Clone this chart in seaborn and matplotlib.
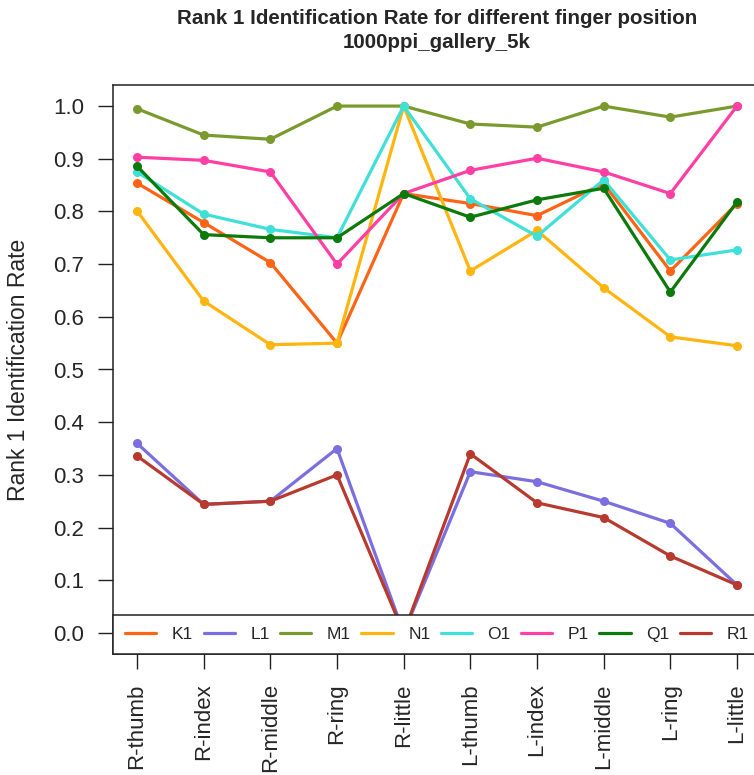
import matplotlib
matplotlib.use("Agg")
import matplotlib.pyplot as plt
from matplotlib.lines import Line2D
from matplotlib import font_manager
import seaborn as sns
import pandas as pd

fingers = ["R-thumb", "R-index", "R-middle", "R-ring", "R-little",
           "L-thumb", "L-index", "L-middle", "L-ring", "L-little"]
series_names = ["K1", "L1", "M1", "N1", "O1", "P1", "Q1", "R1"]

K1 = [0.854, 0.779, 0.703, 0.550, 0.834, 0.815, 0.792, 0.853, 0.687, 0.815]
L1 = [0.360, 0.244, 0.250, 0.350, 0.000, 0.306, 0.287, 0.250, 0.208, 0.091]
M1 = [0.995, 0.945, 0.937, 1.000, 1.000, 0.966, 0.960, 1.000, 0.979, 1.000]
N1 = [0.801, 0.630, 0.547, 0.550, 1.000, 0.687, 0.764, 0.655, 0.562, 0.545]
O1 = [0.875, 0.795, 0.766, 0.750, 1.000, 0.824, 0.753, 0.860, 0.708, 0.727]
P1 = [0.903, 0.897, 0.875, 0.700, 0.834, 0.878, 0.901, 0.875, 0.834, 1.000]
Q1 = [0.886, 0.756, 0.750, 0.750, 0.834, 0.789, 0.822, 0.844, 0.647, 0.818]
R1 = [0.336, 0.244, 0.250, 0.300, 0.000, 0.340, 0.247, 0.219, 0.146, 0.091]

colors = ["#FF6316", "#7B6FE0", "#7A9A2E", "#FFB510",
          "#3EE0D8", "#FF3FA4", "#0B7A0B", "#B83A2E"]

values = [K1, L1, M1, N1, O1, P1, Q1, R1]
rows = []
for name, vals in zip(series_names, values):
    for f, v in zip(fingers, vals):
        rows.append({"finger": f, "series": name, "rate": v})
df = pd.DataFrame(rows)
df["pos"] = df["finger"].map({f: i for i, f in enumerate(fingers)})

sns.set_style("ticks")
installed = {f.name for f in font_manager.fontManager.ttflist}
base_font = "Liberation Sans" if "Liberation Sans" in installed else "DejaVu Sans"
title_font = "Liberation Sans Narrow" if "Liberation Sans Narrow" in installed else base_font
plt.rcParams["font.family"] = [base_font, "DejaVu Sans"]

fig = plt.figure(figsize=(7.54, 7.75), dpi=100)
ax = fig.add_axes([113 / 754, 121 / 775, 648 / 754, 569 / 775])

palette = dict(zip(series_names, colors))
sns.lineplot(data=df, x="pos", y="rate", hue="series", hue_order=series_names,
             palette=palette, marker="o", markersize=6.5, markeredgewidth=0,
             linewidth=2.3, sort=False, legend=False, ax=ax, zorder=2)

ax.set_xlim(-0.36, 9.36)
ax.set_ylim(-0.04, 1.04)
ax.set_xticks(range(len(fingers)))
ax.set_xticklabels(fingers, rotation=90, fontsize=16)
ax.set_yticks([i / 10 for i in range(11)])
ax.set_yticklabels([f"{i / 10:.1f}" for i in range(11)], fontsize=16)
ax.tick_params(axis="both", direction="out", length=11, width=1.0, color="#222222", pad=10)
ax.set_xlabel("")
ax.set_ylabel("Rank 1 Identification Rate", fontsize=16.5)
ax.yaxis.set_label_coords((30 - 113) / 648, 0.5)
for sp in ax.spines.values():
    sp.set_visible(True)
    sp.set_color("#222222")
    sp.set_linewidth(1.1)

handles = [Line2D([0], [0], color=c, lw=2.3) for c in colors]
leg = ax.legend(handles, series_names, loc="lower left", bbox_to_anchor=(0, 0, 1, 1),
                mode="expand", ncol=8, frameon=True, fancybox=False,
                framealpha=1, edgecolor="#222222", fontsize=12.5,
                handlelength=1.8, handletextpad=0.9, borderaxespad=0,
                borderpad=0.7, columnspacing=0.5)
leg.get_frame().set_linewidth(1.1)
leg.set_zorder(5)

fig.text(437 / 754, 1 - 18 / 775, "Rank 1 Identification Rate for different finger position",
         ha="center", va="center", fontsize=14.8, fontweight="bold",
         family=[title_font, "DejaVu Sans"])
fig.text(437 / 754, 1 - 43 / 775, "1000ppi_gallery_5k",
         ha="center", va="center", fontsize=14.8, fontweight="bold",
         family=[title_font, "DejaVu Sans"])

fig.savefig("out.png", dpi=100)
